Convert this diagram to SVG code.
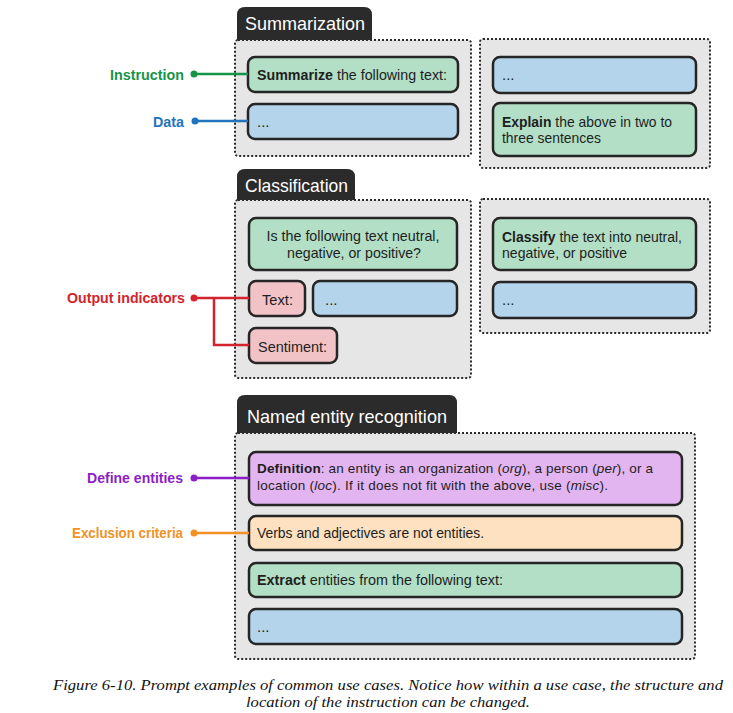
<svg xmlns="http://www.w3.org/2000/svg" width="733" height="713" viewBox="0 0 733 713">
<style>
.panel{fill:#e6e6e6;stroke:#2a2a2a;stroke-width:2;stroke-dasharray:2 2}
.box{stroke:#252525;stroke-width:2.5}
.g{fill:#b2dfc6}.b{fill:#b3d4ea}.p{fill:#f1c2c6}.v{fill:#e2b4f0}.o{fill:#fde1c0}
.tab{fill:#2b2b2b}
.tabt{font-family:"Liberation Sans",sans-serif;font-size:19px;fill:#fff}
.t{font-family:"Liberation Sans",sans-serif;font-size:15px;fill:#1e1e1e}
.t2{font-family:"Liberation Sans",sans-serif;font-size:13.5px;fill:#1e1e1e}
.lbl{font-family:"Liberation Sans",sans-serif;font-size:15px;font-weight:bold}
.cap{font-family:"Liberation Serif",serif;font-size:15.5px;font-style:italic;fill:#111}
.bold{font-weight:bold}
.it{font-style:italic}
.ln{fill:none;stroke-width:2.5}
</style>

<g id="summarization">
<path class="tab" d="M237,41 V15 Q237,7 245,7 H364 Q372,7 372,15 V41 Z"/>
<text class="tabt" x="245" y="30" textLength="120" lengthAdjust="spacingAndGlyphs">Summarization</text>
<rect class="panel" x="235" y="40" width="236" height="116" rx="3"/>
<rect class="box g" x="248" y="57" width="210" height="35" rx="7"/>
<text class="t" x="257" y="80" textLength="190" lengthAdjust="spacingAndGlyphs"><tspan class="bold">Summarize</tspan> the following text:</text>
<rect class="box b" x="248" y="104" width="210" height="35" rx="7"/>
<text class="t" x="257" y="127">...</text>
</g>

<g id="summarization-alt">
<rect class="panel" x="480" y="39" width="230" height="129" rx="3"/>
<rect class="box b" x="493" y="57" width="203" height="36" rx="7"/>
<text class="t" x="502" y="80">...</text>
<rect class="box g" x="493" y="103" width="203" height="53" rx="7"/>
<text class="t" x="502" y="127" textLength="170" lengthAdjust="spacingAndGlyphs"><tspan class="bold">Explain</tspan> the above in two to</text>
<text class="t" x="502" y="143" textLength="99" lengthAdjust="spacingAndGlyphs">three sentences</text>
</g>

<g id="classification">
<path class="tab" d="M237,201 V177 Q237,169 245,169 H347 Q355,169 355,177 V201 Z"/>
<text class="tabt" x="245" y="192" textLength="103" lengthAdjust="spacingAndGlyphs">Classification</text>
<rect class="panel" x="235" y="200" width="236" height="178" rx="3"/>
<rect class="box g" x="249" y="218" width="208" height="52" rx="7"/>
<text class="t" x="353" y="241" text-anchor="middle" textLength="173" lengthAdjust="spacingAndGlyphs">Is the following text neutral,</text>
<text class="t" x="354" y="258" text-anchor="middle" textLength="134" lengthAdjust="spacingAndGlyphs">negative, or positive?</text>
<rect class="box p" x="249" y="281" width="56" height="35" rx="7"/>
<text class="t" x="262" y="305" textLength="31" lengthAdjust="spacingAndGlyphs">Text:</text>
<rect class="box b" x="313" y="281" width="144" height="35" rx="7"/>
<text class="t" x="325" y="305">...</text>
<rect class="box p" x="249" y="328" width="88" height="35" rx="7"/>
<text class="t" x="258" y="352" textLength="69" lengthAdjust="spacingAndGlyphs">Sentiment:</text>
</g>

<g id="classification-alt">
<rect class="panel" x="480" y="199" width="230" height="134" rx="3"/>
<rect class="box g" x="493" y="218" width="203" height="52" rx="7"/>
<text class="t" x="502" y="242" textLength="180" lengthAdjust="spacingAndGlyphs"><tspan class="bold">Classify</tspan> the text into neutral,</text>
<text class="t" x="502" y="258" textLength="125" lengthAdjust="spacingAndGlyphs">negative, or positive</text>
<rect class="box b" x="493" y="282" width="203" height="36" rx="7"/>
<text class="t" x="502" y="305">...</text>
</g>

<g id="ner">
<path class="tab" d="M237,434 V403 Q237,395 245,395 H449 Q457,395 457,403 V434 Z"/>
<text class="tabt" x="247" y="423" textLength="200" lengthAdjust="spacingAndGlyphs">Named entity recognition</text>
<rect class="panel" x="235" y="433" width="460" height="226" rx="3"/>
<rect class="box v" x="249" y="452" width="433" height="53" rx="7"/>
<text class="t2" x="257" y="473" textLength="396" lengthAdjust="spacing"><tspan class="bold">Definition</tspan>: an entity is an organization (<tspan class="it">org</tspan>), a person (<tspan class="it">per</tspan>), or a</text>
<text class="t2" x="257" y="490" textLength="351" lengthAdjust="spacing">location (<tspan class="it">loc</tspan>). If it does not fit with the above, use (<tspan class="it">misc</tspan>).</text>
<rect class="box o" x="249" y="516" width="433" height="34" rx="7"/>
<text class="t" x="257" y="538" textLength="227" lengthAdjust="spacingAndGlyphs">Verbs and adjectives are not entities.</text>
<rect class="box g" x="249" y="563" width="433" height="34" rx="7"/>
<text class="t" x="257" y="585" textLength="246" lengthAdjust="spacingAndGlyphs"><tspan class="bold">Extract</tspan> entities from the following text:</text>
<rect class="box b" x="249" y="609" width="433" height="35" rx="7"/>
<text class="t" x="257" y="632">...</text>
</g>

<g id="labels">
<text class="lbl" x="184" y="80" text-anchor="end" fill="#169447" textLength="74" lengthAdjust="spacingAndGlyphs">Instruction</text>
<text class="lbl" x="184" y="127" text-anchor="end" fill="#1f74bd" textLength="31" lengthAdjust="spacingAndGlyphs">Data</text>
<text class="lbl" x="185" y="303" text-anchor="end" fill="#d3232d" textLength="118" lengthAdjust="spacingAndGlyphs">Output indicators</text>
<text class="lbl" x="183" y="483" text-anchor="end" fill="#8b1ec6" textLength="96" lengthAdjust="spacingAndGlyphs">Define entities</text>
<text class="lbl" x="183" y="538" text-anchor="end" fill="#f29124" textLength="111" lengthAdjust="spacingAndGlyphs">Exclusion criteria</text>
</g>

<g id="connectors">
<path class="ln" stroke="#169447" d="M194,74 H248"/>
<circle cx="194" cy="74" r="3.5" fill="#169447"/>
<path class="ln" stroke="#1f74bd" d="M195,121 H248"/>
<circle cx="195" cy="121" r="3.5" fill="#1f74bd"/>
<path class="ln" stroke="#d3232d" d="M194,298 H249 M214,298 V345 H249"/>
<circle cx="194" cy="298" r="3.5" fill="#d3232d"/>
<path class="ln" stroke="#8b1ec6" d="M194,478 H249"/>
<circle cx="194" cy="478" r="3.5" fill="#8b1ec6"/>
<path class="ln" stroke="#f29124" d="M194,533 H249"/>
<circle cx="194" cy="533" r="3.5" fill="#f29124"/>
</g>

<g id="caption">
<text class="cap" x="388" y="690" text-anchor="middle" textLength="670" lengthAdjust="spacingAndGlyphs">Figure 6-10. Prompt examples of common use cases. Notice how within a use case, the structure and</text>
<text class="cap" x="388" y="707" text-anchor="middle" textLength="284" lengthAdjust="spacingAndGlyphs">location of the instruction can be changed.</text>
</g>
</svg>
